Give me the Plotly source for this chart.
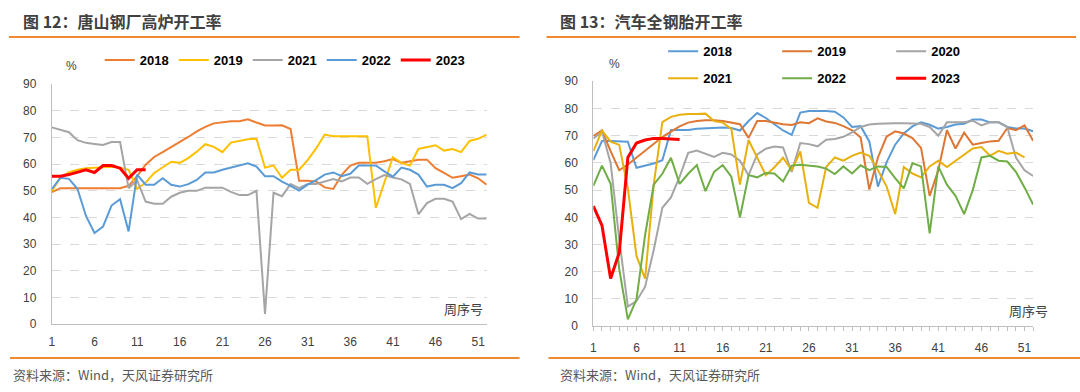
import plotly.graph_objects as go

W, H = 1080, 392

weeks_left = list(range(1, 53))
weeks_right = list(range(1, 53))

# ---- 图12 唐山钢厂高炉开工率 (%) ----
left_2018 = [49.5, 51, 51, 51, 51, 51, 51, 51, 51, 51.9, 55.5, 59.8, 62.7, 64.5, 66.3, 68.1, 70.2, 72.3, 74.0, 75.3,
             75.8, 76.1, 76.1, 76.8, 75.6, 74.5, 74.5, 74.6, 73.2, 53.8, 53.8, 53.5, 51.3, 50.7, 56.0, 59.5, 60.5, 60.5, 60.5, 61.1,
             61.9, 60.5, 61.1, 61.7, 61.7, 58.5, 56.7, 54.9, 55.5, 56.1, 54.7, 52.3]
left_2019 = [50.0, 54.9, 57.0, 57.9, 58.5, 58.7, 59.0, 59.0, 58.7, 57.9, 50.7, 53.1, 56.7, 58.7, 60.9, 60.5, 62.3, 64.7, 67.5, 66.5,
             64.5, 68.1, 68.7, 69.3, 69.5, 58.7, 59.5, 54.9, 57.9, 57.9, 61.5, 65.9, 71.1, 70.5, 70.5, 70.5, 70.5, 70.5, 43.6, 53.0,
             62.6, 60.5, 59.5, 65.7, 66.3, 67.1, 65.1, 65.7, 64.5, 68.7, 69.5, 71.1]
left_2021 = [73.8, 73.0, 72.0, 69.0, 68.0, 67.6, 67.2, 68.3, 68.3, 51.0, 54.0, 46.0, 45.2, 45.2, 47.8, 49.3, 50.0, 50.0, 51.2, 51.2,
             51.2, 49.6, 48.4, 48.4, 50.0, 3.9, 49.3, 48.0, 52.6, 51.0, 52.6, 52.6, 53.5, 54.4, 53.5, 55.0, 55.0, 52.6, 54.4, 55.9,
             55.0, 54.3, 52.6, 41.2, 45.4, 47.0, 47.0, 46.0, 39.4, 41.4, 39.6, 39.6]
left_2022 = [50.7, 54.9, 54.5, 50.8, 40.6, 34.2, 36.6, 44.5, 46.9, 34.8, 56.1, 52.3, 52.3, 54.7, 52.3, 51.6, 52.5, 54.1, 56.9, 56.9,
             57.9, 58.7, 59.7, 60.3, 59.1, 55.5, 55.5, 53.5, 51.9, 50.1, 52.3, 54.0, 56.1, 56.9, 55.5, 56.4, 59.5, 59.5, 59.5, 57.3,
             55.3, 58.7, 57.9, 56.1, 51.6, 52.3, 52.3, 51.0, 52.9, 56.9, 56.1, 56.1]
left_2023 = [55.5, 55.5, 56.1, 56.9, 57.9, 56.9, 59.5, 59.5, 58.5, 54.7, 57.9, 57.9]

# ---- 图13 汽车全钢胎开工率 (%) ----
right_2018 = [61.0, 68.0, 68.0, 68.0, 67.8, 58.2, 59.0, 59.8, 61.0, 72.1, 72.1, 72.1, 72.5, 72.7, 72.8, 73.0, 72.8, 71.9, 75.4, 78.3,
              76.5, 74.2, 71.9, 70.3, 78.5, 79.1, 79.1, 79.1, 78.8, 76.7, 73.2, 73.5, 67.9, 51.3, 60.2, 66.7, 70.8, 73.4, 74.9, 74.0,
              72.6, 73.2, 74.1, 74.4, 75.9, 75.9, 74.9, 74.9, 73.2, 72.6, 72.6, 71.6]
right_2019 = [69.9, 71.9, 64.3, 57.3, 59.4, 61.9, 64.5, 67.2, 69.5, 71.5, 73.4, 74.8, 75.4, 75.7, 75.7, 75.4, 74.8, 74.2, 69.2, 75.4,
              75.4, 74.8, 74.2, 73.9, 74.9, 74.6, 76.4, 75.2, 74.7, 73.5, 72.0, 69.3, 50.2, 62.0, 69.6, 71.6, 70.8, 69.1, 65.5, 47.9,
              57.3, 72.0, 65.3, 71.1, 66.7, 67.3, 67.9, 68.1, 72.8, 72.0, 73.8, 68.1]
right_2020 = [69.0, 71.5, 60.0, 32.0, 7.2, 9.2, 14.5, 28.0, 43.5, 47.3, 54.9, 63.7, 64.5, 63.3, 62.2, 63.7, 63.1, 60.8, 55.5, 63.1,
              65.2, 66.0, 65.7, 56.7, 67.3, 66.9, 66.1, 68.5, 68.8, 69.6, 71.2, 73.2, 74.1, 74.4, 74.6, 74.6, 74.6, 74.4, 74.4, 73.2,
              70.0, 74.9, 74.9, 74.9, 75.5, 73.8, 74.9, 74.9, 73.2, 62.0, 57.3, 55.2]
right_2021 = [64.3, 71.9, 67.8, 66.6, 50.6, 25.8, 17.5, 52.0, 75.0, 76.9, 77.7, 78.0, 78.0, 78.1, 75.4, 74.8, 72.5, 52.0, 68.4, 61.9,
              55.5, 58.4, 61.9, 57.3, 64.2, 45.3, 43.5, 58.5, 62.0, 60.8, 62.6, 63.8, 62.6, 57.3, 51.4, 41.2, 58.5, 56.1, 54.7, 58.7,
              60.8, 58.5, 60.8, 62.9, 65.3, 65.8, 62.6, 64.4, 63.4, 63.8, 62.0]
right_2022 = [51.6, 59.0, 52.3, 21.0, 2.5, 9.8, 33.5, 52.0, 56.0, 61.9, 52.3, 56.0, 59.2, 49.6, 56.7, 59.2, 54.9, 40.0, 55.5, 54.7,
              56.3, 56.1, 53.2, 59.0, 59.3, 59.1, 58.7, 57.9, 55.9, 58.7, 56.1, 59.1, 57.3, 58.7, 58.5, 54.4, 50.6, 59.9, 58.7, 34.1,
              58.7, 52.0, 47.9, 41.2, 50.0, 62.0, 62.6, 60.8, 60.5, 56.7, 51.0, 44.7]
right_2023 = [44.1, 37.0, 17.5, 27.0, 62.0, 67.3, 68.4, 69.0, 69.0, 68.8, 68.6]

tick_vals = [1, 6, 11, 16, 21, 26, 31, 36, 41, 46, 51]
tick_text = [str(v) for v in tick_vals]
y_ticks = list(range(0, 100, 10))

left_series = [("2018", left_2018, "#ED7D31", 2), ("2019", left_2019, "#FFC000", 2),
               ("2021", left_2021, "#A5A5A5", 2), ("2022", left_2022, "#5B9BD5", 2),
               ("2023", left_2023, "#FF0000", 3)]
right_series = [("2018", right_2018, "#5B9BD5", 2, "legend2"), ("2019", right_2019, "#DD7733", 2, "legend2"),
                ("2020", right_2020, "#A5A5A5", 2, "legend2"), ("2021", right_2021, "#E8B00F", 2, "legend3"),
                ("2022", right_2022, "#70AD47", 2, "legend3"), ("2023", right_2023, "#FF0000", 3, "legend3")]


def px(x):
    return x / W


def py(y):
    return 1 - y / H


fig = go.Figure()
for name, vals, color, lw in left_series:
    fig.add_trace(go.Scatter(x=weeks_left[:len(vals)], y=vals, mode="lines", name=name,
                             line=dict(color=color, width=lw), xaxis="x", yaxis="y",
                             legend="legend", hoverinfo="skip"))
for name, vals, color, lw, lg in right_series:
    fig.add_trace(go.Scatter(x=weeks_right[:len(vals)], y=vals, mode="lines", name=name,
                             line=dict(color=color, width=lw), xaxis="x2", yaxis="y2",
                             legend=lg, hoverinfo="skip"))

num_font = dict(family="Liberation Sans, Arial, sans-serif", size=12, color="#404040")
cjk = "Noto Sans CJK SC, sans-serif"

xcommon = dict(range=[1, 52], tickmode="array", tickvals=tick_vals, ticktext=tick_text,
               showgrid=False, zeroline=False, showline=True, linecolor="#BFBFBF", linewidth=1,
               tickfont=num_font, ticklabelstandoff=6, fixedrange=True)
ycommon = dict(range=[0, 90], tickmode="array", tickvals=y_ticks, showgrid=True,
               gridcolor="#D9D9D9", griddash="dash", gridwidth=1, zeroline=False,
               showline=True, linecolor="#BFBFBF", linewidth=1, tickfont=num_font,
               ticks="", ticklabelstandoff=12, fixedrange=True)

legend_font = dict(family="Liberation Sans, Arial", size=13, color="#000000", weight="bold")

fig.update_layout(
    width=W, height=H, margin=dict(l=0, r=0, t=0, b=0),
    paper_bgcolor="white", plot_bgcolor="white", showlegend=True,
    xaxis=dict(domain=[px(49), px(485)], anchor="y", ticks="", **xcommon),
    yaxis=dict(domain=[py(329), py(80)], anchor="x", **ycommon),
    xaxis2=dict(domain=[px(592), px(1033)], anchor="y2", ticks="outside", ticklen=4,
                tickcolor="#BFBFBF",
                minor=dict(ticks="outside", ticklen=4, tickcolor="#BFBFBF", tick0=1, dtick=1),
                **xcommon),
    yaxis2=dict(domain=[py(331), py(77)], anchor="x2", **ycommon),
    legend=dict(orientation="h", x=px(97), y=py(55), xanchor="left", yanchor="middle",
                entrywidth=29, font=legend_font, bgcolor="rgba(0,0,0,0)"),
    legend2=dict(orientation="h", x=px(662), y=py(46), xanchor="left", yanchor="middle",
                 entrywidth=69, font=legend_font, bgcolor="rgba(0,0,0,0)"),
    legend3=dict(orientation="h", x=px(662), y=py(74), xanchor="left", yanchor="middle",
                 entrywidth=69, font=legend_font, bgcolor="rgba(0,0,0,0)"),
)

ann = []
ann.append(dict(text="图 12：唐山钢厂高炉开工率", x=px(18), y=py(15), xref="paper", yref="paper",
                xanchor="left", yanchor="middle", showarrow=False,
                font=dict(family=cjk, size=16, color="#404040", weight="bold")))
ann.append(dict(text="图 13：汽车全钢胎开工率", x=px(557), y=py(15), xref="paper", yref="paper",
                xanchor="left", yanchor="middle", showarrow=False,
                font=dict(family=cjk, size=16, color="#404040", weight="bold")))
for xx, yy in [(69, 61), (613, 59)]:
    ann.append(dict(text="%", x=px(xx), y=py(yy), xref="paper", yref="paper", showarrow=False,
                    xanchor="center", yanchor="middle",
                    font=dict(family="Liberation Sans, Arial", size=12, color="#404040")))
for xx, yy in [(462, 313), (1028, 315)]:
    ann.append(dict(text="周序号", x=px(xx), y=py(yy), xref="paper", yref="paper", showarrow=False,
                    xanchor="center", yanchor="middle",
                    font=dict(family=cjk, size=13, color="#404040")))
for xx in [8, 557]:
    ann.append(dict(text="资料来源：Wind，天风证券研究所", x=px(xx), y=py(381), xref="paper", yref="paper",
                    showarrow=False, xanchor="left", yanchor="middle",
                    font=dict(family=cjk, size=13, color="#595959")))
fig.update_layout(annotations=ann)

shapes = []
for x0, x1, yy in [(6, 518, 31), (545, 1076, 31), (7, 518, 364), (547, 1080, 364)]:
    shapes.append(dict(type="line", xref="paper", yref="paper", x0=px(x0), x1=px(x1), y0=py(yy), y1=py(yy),
                       line=dict(color="#F0892F", width=2)))
fig.update_layout(shapes=shapes)

page_js = (
    "var de=document.documentElement, b=document.body;"
    "de.style.margin='0';de.style.padding='0';de.style.overflow='hidden';"
    "b.style.margin='0';b.style.padding='0';b.style.overflow='hidden';"
    "var gd=document.getElementById('{plot_id}');"
    "gd.style.position='fixed';gd.style.left='0px';gd.style.top='0px';"
)
fig.write_html("out.html", config={"displayModeBar": False}, post_script=page_js)
